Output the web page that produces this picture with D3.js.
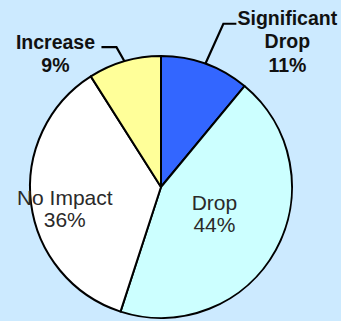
<!DOCTYPE html>
<html><head><meta charset="utf-8">
<script src="https://cdn.jsdelivr.net/npm/d3@7"></script>
<style>html,body{margin:0;padding:0;background:#cceaff;}</style>
</head><body>
<svg id="chart" width="341" height="321"></svg>
<script>
const categories = ["Significant Drop", "Drop", "No Impact", "Increase"];
const values = [11, 44, 36, 9];
const labelLines = [["Significant", "Drop", "11%"], ["Drop", "44%"], ["No Impact", "36%"], ["Increase", "9%"]];
const colors = ["#3366ff", "#ccffff", "#ffffff", "#ffff99"];

const W = 341, H = 321, cx = 161, cy = 187, R = 131;
const svg = d3.select("#chart");
svg.append("rect").attr("width", W).attr("height", H).attr("fill", "#cceaff");
const g = svg.append("g").attr("transform", `translate(${cx},${cy})`);

const pie = d3.pie().sort(null).value(d => d)(values);
const arc = d3.arc().innerRadius(0).outerRadius(R);

g.selectAll("path.slice").data(pie).join("path")
  .attr("class", "slice")
  .attr("d", arc)
  .attr("fill", (d, i) => colors[i])
  .attr("stroke", "#000")
  .attr("stroke-width", 2)
  .attr("stroke-linejoin", "round");

// layout per slice: inside/outside labels (offsets relative to arc edge / centroid)
const layout = [
  {outside: true, bend: [18, -40], end: [31, -40], text: [82, 8]},
  {outside: false, r: 61, dx: 0, dy: -6},
  {outside: false, r: 99, dx: 2, dy: 6},
  {outside: true, bend: [-8, -14], end: [-23, -14], text: [-69, 11]}
];
const lineH = 23.5;

pie.forEach((d, i) => {
  const L = layout[i];
  const mid = (d.startAngle + d.endAngle) / 2;
  const lines = labelLines[i];
  if (L.outside) {
    const ex = Math.sin(mid) * R, ey = -Math.cos(mid) * R;
    g.append("path")
      .attr("d", d3.line()([[ex, ey], [ex + L.bend[0], ey + L.bend[1]], [ex + L.end[0], ey + L.end[1]]]))
      .attr("fill", "none").attr("stroke", "#000").attr("stroke-width", 2.2);
    const lx = ex + L.text[0], lastY = ey + L.text[1];
    const t = g.append("text")
      .attr("text-anchor", "middle")
      .attr("font-family", "Liberation Sans, Arial, sans-serif")
      .attr("font-weight", "bold")
      .attr("font-size", 19.5)
      .attr("fill", "#111");
    lines.forEach((s, k) => {
      t.append("tspan").attr("x", lx).attr("y", lastY - (lines.length - 1 - k) * lineH).text(s);
    });
  } else {
    const lx = Math.sin(mid) * L.r + L.dx, ly = -Math.cos(mid) * L.r + L.dy;
    const t = g.append("text")
      .attr("text-anchor", "middle")
      .attr("font-family", "Liberation Sans, Arial, sans-serif")
      .attr("font-size", 21)
      .attr("fill", "#2a2a2a");
    lines.forEach((s, k) => {
      t.append("tspan").attr("x", lx).attr("y", ly + k * 22).text(s);
    });
  }
});
</script>
</body></html>
